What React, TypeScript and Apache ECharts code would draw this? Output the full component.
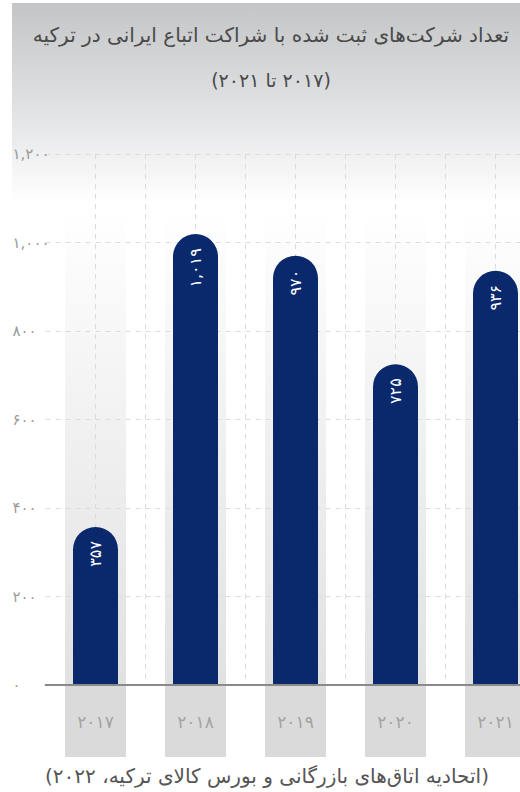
import React, { useEffect, useRef } from "react";
import * as echarts from "echarts";

const categories = ["2017", "2018", "2019", "2020", "2021"];
const companies = [357, 1019, 970, 725, 936];
const yTicks = { min: 0, max: 1200, interval: 200 };
const titleText = "تعداد شرکت‌های ثبت شده با شراکت اتباع ایرانی در ترکیه";
const subtitleText = "(۲۰۱۷ تا ۲۰۲۱)";
const sourceText = "(اتحادیه اتاق‌های بازرگانی و بورس کالای ترکیه، ۲۰۲۲)";

const FA_DIGITS = "۰۱۲۳۴۵۶۷۸۹";
const fa = (s: string) => s.replace(/\d/g, (d) => FA_DIGITS[+d]);
const faNum = (n: number) => fa(n.toLocaleString("en-US"));
const rtl = (s: string) => "\u202B" + s + "\u202C";

const FONT = "DejaVu Sans";

export default function App() {
  const ref = useRef<HTMLDivElement>(null);
  useEffect(() => {
    document.body.style.margin = "0";
    const chart = echarts.init(ref.current!, null, { renderer: "svg" });
    const bandGradient = new echarts.graphic.LinearGradient(0, 0, 0, 1, [
      { offset: 0, color: "rgba(224,224,224,0)" },
      { offset: 1, color: "#e1e1e1" },
    ]);
    chart.setOption({
      animation: false,
      backgroundColor: "#ffffff",
      textStyle: { fontFamily: FONT },
      graphic: [
        {
          type: "rect",
          z: -100,
          silent: true,
          shape: { x: 12, y: 3, width: 540, height: 200 },
          style: {
            fill: new echarts.graphic.LinearGradient(0, 0, 0, 1, [
              { offset: 0, color: "#c4c5c7" },
              { offset: 0.5, color: "#dfe0e2" },
              { offset: 1, color: "#ffffff" },
            ]),
          },
        },
        {
          type: "text",
          x: 267,
          y: 776,
          style: {
            text: rtl(sourceText),
            fontFamily: FONT,
            fontSize: 20,
            fill: "#555555",
            align: "center",
            verticalAlign: "middle",
          },
        },
      ],
      title: [
        {
          text: rtl(titleText),
          left: 266,
          top: 20,
          textAlign: "center",
          textStyle: { fontFamily: FONT, fontSize: 20, fontWeight: "normal", color: "#4a4a4a" },
        },
        {
          text: rtl(subtitleText),
          left: 266,
          top: 65,
          textAlign: "center",
          textStyle: { fontFamily: FONT, fontSize: 19, fontWeight: "normal", color: "#4a4a4a" },
        },
      ],
      grid: { left: 45.5, top: 154, width: 500, height: 531, containLabel: false },
      xAxis: [
        {
          type: "category",
          data: categories,
          axisLine: { show: true, lineStyle: { color: "#8a8a8a", width: 2 } },
          axisTick: { show: false },
          splitLine: { show: false },
          axisLabel: {
            formatter: (v: string) => fa(v),
            color: "#a3a3a3",
            fontSize: 17,
            fontFamily: FONT,
            margin: 1,
            backgroundColor: "#dadada",
            width: 61,
            height: 71,
            lineHeight: 71,
            align: "center",
          },
          z: 3,
        },
        {
          type: "value",
          min: 0,
          max: categories.length,
          interval: 0.5,
          show: true,
          axisLine: { show: false },
          axisTick: { show: false },
          axisLabel: { show: false },
          splitLine: {
            show: true,
            showMinLine: false,
            lineStyle: { color: "#dcdcdc", type: [5, 5], width: 1 },
          },
        },
      ],
      yAxis: {
        type: "value",
        min: yTicks.min,
        max: yTicks.max,
        interval: yTicks.interval,
        axisLine: { show: false },
        axisTick: { show: false },
        axisLabel: {
          formatter: (v: number) => faNum(v),
          color: "#9a9a9a",
          fontSize: 15,
          fontFamily: FONT,
          align: "left",
          margin: 33,
        },
        splitLine: { lineStyle: { color: "#dcdcdc", type: [5, 5], width: 1 } },
      },
      series: [
        {
          type: "custom",
          z: -1,
          silent: true,
          xAxisIndex: 0,
          yAxisIndex: 0,
          data: categories.map((c) => [c, 0]),
          encode: { x: 0, y: 1 },
          renderItem: (params: any, api: any) => {
            const base = api.coord([api.value(0), 0]);
            const bw = api.size([1, 0])[0] * 0.61;
            const top = params.coordSys.y + 53;
            return {
              type: "rect",
              shape: { x: base[0] - bw / 2, y: top, width: bw, height: base[1] - top },
              style: { fill: bandGradient },
            };
          },
        },
        {
          type: "bar",
          xAxisIndex: 0,
          yAxisIndex: 0,
          data: companies,
          barWidth: 45,
          itemStyle: { color: "#0a286c", borderRadius: [22.5, 22.5, 0, 0] },
          label: {
            show: true,
            position: "insideTop",
            rotate: 90,
            align: "right",
            verticalAlign: "middle",
            distance: 14,
            color: "#ffffff",
            fontSize: 16,
            fontFamily: FONT,
            formatter: (p: any) => faNum(p.value),
          },
        },
      ],
    });
    return () => chart.dispose();
  }, []);
  return (
    <div style={{ width: 520, height: 792, overflow: "hidden", position: "relative" }}>
      <div ref={ref} style={{ width: 546, height: 792 }} />
    </div>
  );
}
